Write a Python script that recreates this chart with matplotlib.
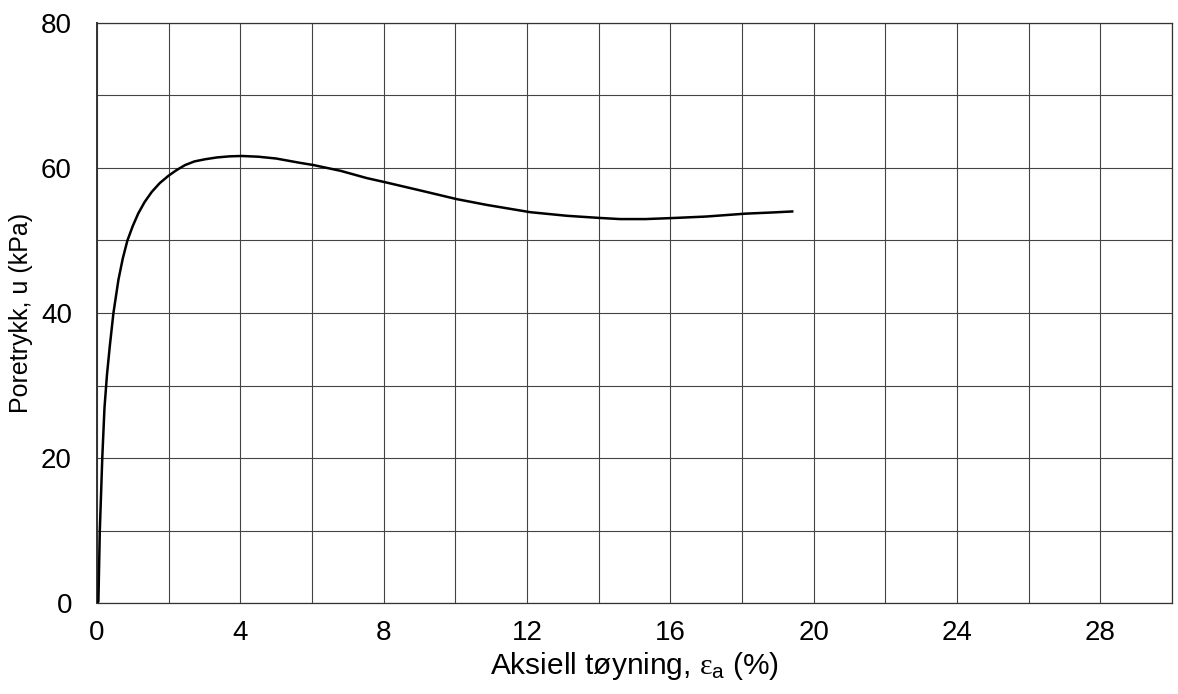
import numpy as np
import matplotlib.pyplot as plt
from matplotlib.ticker import MultipleLocator

plt.rcParams["font.family"] = ["Liberation Sans", "DejaVu Sans"]
plt.rcParams["mathtext.fontset"] = "custom"
plt.rcParams["mathtext.rm"] = "Liberation Sans"
plt.rcParams["mathtext.it"] = "Liberation Serif"
plt.rcParams["mathtext.sf"] = "Liberation Sans"

# Axial strain (%) and pore pressure (kPa)
strain = [0.0, 0.04, 0.08, 0.15, 0.21, 0.28, 0.36, 0.46, 0.60, 0.72,
          0.85, 1.0, 1.15, 1.33, 1.53, 1.75, 1.99, 2.22, 2.46, 2.72,
          3.02, 3.35, 3.7, 4.04, 4.5, 5.0, 5.67, 6.04, 6.8, 7.53,
          8.07, 9.02, 10.04, 10.88, 12.09, 13.12, 14.05, 14.6, 15.3, 16.1,
          17.0, 18.1, 18.8, 19.4]
pore_pressure = [0.0, 0.2, 10.0, 20.2, 26.9, 31.5, 35.5, 40.0, 44.6, 47.5,
                 50.0, 52.0, 53.7, 55.3, 56.7, 57.9, 58.9, 59.7, 60.4, 60.9,
                 61.2, 61.45, 61.6, 61.65, 61.55, 61.3, 60.7, 60.4, 59.6, 58.6,
                 58.0, 56.9, 55.7, 54.9, 53.9, 53.4, 53.1, 52.95, 52.95, 53.1,
                 53.3, 53.7, 53.85, 54.0]

fig = plt.figure(figsize=(11.78, 6.94), dpi=100)
ax = fig.add_axes([0.0823, 0.131, 0.9127, 0.836])

ax.plot(strain, pore_pressure, color="black", lw=1.8, zorder=3,
        solid_joinstyle="round")

ax.set_xlim(0, 30)
ax.set_ylim(0, 80)
ax.xaxis.set_minor_locator(MultipleLocator(2))
ax.yaxis.set_major_locator(MultipleLocator(20))
ax.yaxis.set_minor_locator(MultipleLocator(10))
ax.set_xticks([0, 4, 8, 12, 16, 20, 24, 28])

ax.grid(which="both", color="#444444", lw=0.8)
ax.tick_params(which="both", length=0, labelsize=20)
ax.tick_params(axis="y", pad=18)
ax.tick_params(axis="x", pad=12)

for s in ax.spines.values():
    s.set_color("#333333")
    s.set_linewidth(0.9)
ax.spines["left"].set_linewidth(1.4)

ax.set_xlabel("Aksiell tøyning, $\\varepsilon_\\mathsf{a}$ (%)", fontsize=21.5, labelpad=3)
ax.set_ylabel("Poretrykk, u (kPa)", fontsize=18, labelpad=6)

fig.savefig("out.png", dpi=100, facecolor="white")
